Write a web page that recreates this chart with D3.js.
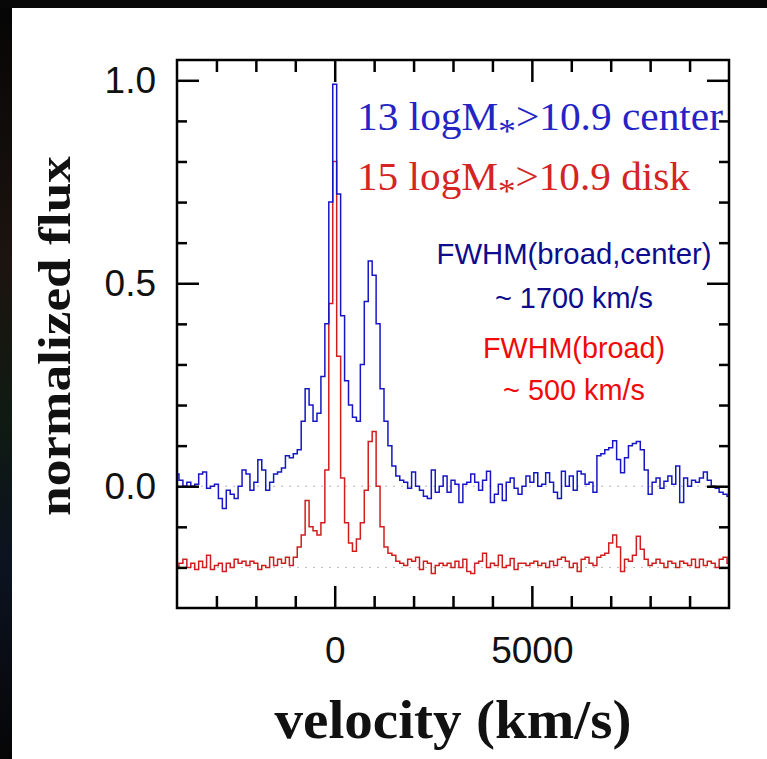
<!DOCTYPE html>
<html>
<head>
<meta charset="utf-8">
<script src="https://cdn.jsdelivr.net/npm/d3@7"></script>
<style>
body { margin: 0; background: #fff; }
svg { display: block; }
</style>
</head>
<body>
<script>
// spectra are binned in 100 km/s steps starting at -4000 km/s (bin centres)
var binStart = -4000;
var binWidth = 100;

var centerFlux = [
    0.03, 0.015, 0.0, 0.01, 0.0, 0.005, 0.03, 0.035, -0.005, 0.0,
    0.005, -0.03, -0.055, -0.01, -0.02, -0.03, 0.0, 0.04, 0.03, -0.01,
    0.01, 0.065, 0.04, -0.01, 0.01, 0.03, 0.035, 0.045, 0.075, 0.07,
    0.08, 0.09, 0.16, 0.24, 0.2, 0.16, 0.18, 0.27,
    0.4, 0.7, 0.99, 0.72, 0.42, 0.26, 0.2, 0.17, 0.16, 0.3,
    0.455, 0.555, 0.52, 0.4, 0.24, 0.16, 0.1, 0.05, 0.025,
    0.015, 0.01, -0.005, 0.035, 0.0, -0.01, -0.025, -0.03, 0.04, -0.015,
    0.0, 0.025, -0.015, 0.015, 0.005, -0.04, 0.005, 0.01, 0.03, 0.01,
    -0.01, 0.015, 0.037, -0.04, -0.02, 0.005, -0.035, 0.01, 0.02, -0.005,
    -0.02, 0.0, 0.025, 0.01, 0.033, 0.0, 0.005, 0.033, 0.01, -0.015,
    -0.03, 0.037, 0.0,
    0.025, -0.01, 0.037, 0.03, 0.005, 0.01, -0.015, 0.075, 0.08, 0.09,
    0.095, 0.112, 0.066, 0.033, 0.07, 0.1, 0.105, 0.11, 0.09, 0.04,
    -0.02, 0.01, 0.02, -0.005, 0.012, 0.025, 0.005, 0.05, -0.04, 0.02,
    0.0, 0.015, 0.01, 0.02, 0.035, 0.015, 0.0, -0.005, -0.015, -0.02,
    -0.025
];

var diskFlux = [
    -0.2, -0.19, -0.18, -0.2, -0.19, -0.205, -0.185, -0.2, -0.17, -0.205,
    -0.195, -0.19, -0.21, -0.19, -0.2, -0.18, -0.19, -0.185, -0.195, -0.185,
    -0.19, -0.205, -0.195, -0.2, -0.175, -0.195, -0.18, -0.19, -0.175, -0.195,
    -0.175, -0.15, -0.12, -0.035, -0.1, -0.11, -0.12, -0.09,
    0.04, 0.45, 0.8, 0.32, 0.02, -0.09, -0.14, -0.16, -0.13, -0.09,
    -0.01, 0.11, 0.135, 0.0, -0.1, -0.15, -0.165, -0.17, -0.185,
    -0.19, -0.195, -0.18, -0.185, -0.175, -0.205, -0.185, -0.19, -0.215, -0.195,
    -0.19, -0.195, -0.19, -0.2, -0.185, -0.2, -0.18, -0.21, -0.215, -0.19,
    -0.185, -0.165, -0.2, -0.19, -0.195, -0.17, -0.2, -0.195, -0.178, -0.205,
    -0.19, -0.19, -0.195, -0.19, -0.185, -0.195, -0.19, -0.2, -0.185, -0.195,
    -0.18, -0.175, -0.185,
    -0.2, -0.19, -0.21, -0.18, -0.175, -0.19, -0.195, -0.175, -0.17, -0.165,
    -0.14, -0.12, -0.15, -0.21, -0.18, -0.185, -0.17, -0.123, -0.155, -0.18,
    -0.195, -0.19, -0.18, -0.19, -0.2, -0.185, -0.19, -0.2, -0.185, -0.19,
    -0.195, -0.18, -0.2, -0.18, -0.195, -0.185, -0.19, -0.2, -0.18, -0.175,
    -0.19
];

var baselines = [0, -0.2];
var xMajor = [0, 5000];
var xMinor = [-3000, -2000, -1000, 1000, 2000, 3000, 4000, 6000, 7000, 8000, 9000];
var yMajor = [0, 0.5, 1.0];
var yMinor = [-0.2, -0.1, 0.1, 0.2, 0.3, 0.4, 0.6, 0.7, 0.8, 0.9];

var width = 767, height = 759;
var plotL = 177, plotR = 729, plotT = 60, plotB = 608;

var x = d3.scaleLinear().domain([-4000, 10000]).range([plotL, plotR]);
var y = d3.scaleLinear().domain([-0.3, 1.05]).range([plotB, plotT]);

var svg = d3.select("body").append("svg")
    .attr("width", width)
    .attr("height", height);

// dark slide border on the left and top
var defs = svg.append("defs");
var grad = defs.append("linearGradient").attr("id", "edge").attr("x1", 0).attr("y1", 0).attr("x2", 0).attr("y2", 1);
grad.append("stop").attr("offset", "0%").attr("stop-color", "#050505");
grad.append("stop").attr("offset", "35%").attr("stop-color", "#1c1410");
grad.append("stop").attr("offset", "55%").attr("stop-color", "#0f1a12");
grad.append("stop").attr("offset", "75%").attr("stop-color", "#0c1220");
grad.append("stop").attr("offset", "100%").attr("stop-color", "#060606");
svg.append("rect").attr("x", 0).attr("y", 0).attr("width", 12).attr("height", height).attr("fill", "url(#edge)");
svg.append("rect").attr("x", 0).attr("y", 0).attr("width", width).attr("height", 8).attr("fill", "#080808");

defs.append("clipPath").attr("id", "plot")
    .append("rect")
    .attr("x", plotL).attr("y", plotT)
    .attr("width", plotR - plotL).attr("height", plotB - plotT);

// dotted zero levels
svg.append("g").selectAll("line")
    .data(baselines)
    .enter().append("line")
    .attr("x1", plotL).attr("x2", plotR)
    .attr("y1", function (d) { return y(d); })
    .attr("y2", function (d) { return y(d); })
    .attr("stroke", "#b8b8b8")
    .attr("stroke-width", 1)
    .attr("stroke-dasharray", "2,6");

var line = d3.line()
    .x(function (d, i) { return x(binStart + i * binWidth); })
    .y(function (d) { return y(d); })
    .curve(d3.curveStep);

var spectra = svg.append("g").attr("clip-path", "url(#plot)");
spectra.append("path")
    .attr("d", line(diskFlux))
    .attr("fill", "none")
    .attr("stroke", "#d01e1e")
    .attr("stroke-width", 1.5);
spectra.append("path")
    .attr("d", line(centerFlux))
    .attr("fill", "none")
    .attr("stroke", "#1616c4")
    .attr("stroke-width", 1.5);

// axes: ticks point inward on all four sides
function styleAxis(g) {
    g.select(".domain").remove();
    g.selectAll("line").attr("stroke", "#000").attr("stroke-width", 2.5);
    g.selectAll("text")
        .attr("fill", "#111")
        .style("font-family", "'Liberation Sans', Arial, sans-serif")
        .style("font-size", "37px");
}

svg.append("g").attr("transform", "translate(0," + plotB + ")")
    .call(d3.axisBottom(x).tickValues(xMajor).tickSize(-22).tickPadding(29).tickFormat(d3.format("d")))
    .call(styleAxis);
svg.append("g").attr("transform", "translate(0," + plotB + ")")
    .call(d3.axisBottom(x).tickValues(xMinor).tickSize(-12).tickFormat(""))
    .call(styleAxis);
svg.append("g").attr("transform", "translate(0," + plotT + ")")
    .call(d3.axisTop(x).tickValues(xMajor).tickSize(-22).tickFormat(""))
    .call(styleAxis);
svg.append("g").attr("transform", "translate(0," + plotT + ")")
    .call(d3.axisTop(x).tickValues(xMinor).tickSize(-12).tickFormat(""))
    .call(styleAxis);

svg.append("g").attr("transform", "translate(" + plotL + ",0)")
    .call(d3.axisLeft(y).tickValues(yMajor).tickSize(-22).tickPadding(21).tickFormat(d3.format(".1f")))
    .call(styleAxis);
svg.append("g").attr("transform", "translate(" + plotL + ",0)")
    .call(d3.axisLeft(y).tickValues(yMinor).tickSize(-10).tickFormat(""))
    .call(styleAxis);
svg.append("g").attr("transform", "translate(" + plotR + ",0)")
    .call(d3.axisRight(y).tickValues(yMajor).tickSize(-22).tickFormat(""))
    .call(styleAxis);
svg.append("g").attr("transform", "translate(" + plotR + ",0)")
    .call(d3.axisRight(y).tickValues(yMinor).tickSize(-10).tickFormat(""))
    .call(styleAxis);

svg.append("rect")
    .attr("x", plotL).attr("y", plotT)
    .attr("width", plotR - plotL).attr("height", plotB - plotT)
    .attr("fill", "none")
    .attr("stroke", "#000")
    .attr("stroke-width", 2.5);

// sample labels
var serif = "'Liberation Serif', 'Times New Roman', serif";
var sans = "'Liberation Sans', Arial, sans-serif";

function sampleLabel(yy, color, lead, tail, len) {
    var t = svg.append("text")
        .attr("x", 357).attr("y", yy)
        .attr("fill", color)
        .attr("textLength", len)
        .attr("lengthAdjust", "spacingAndGlyphs")
        .style("font-family", serif)
        .style("font-size", "40px");
    t.append("tspan").text(lead);
    t.append("tspan").attr("dy", 12).style("font-size", "34px").text("*");
    t.append("tspan").attr("dy", -12).text(tail);
}
sampleLabel(130, "#2424c4", "13 logM", ">10.9 center", 366);
sampleLabel(190, "#d42424", "15 logM", ">10.9 disk", 333);

var notes = [
    { text: "FWHM(broad,center)", y: 264, color: "#0c0c8c", len: 275 },
    { text: "~ 1700 km/s", y: 308, color: "#0c0c8c", len: 158 },
    { text: "FWHM(broad)", y: 358, color: "#f00a0a", len: 182 },
    { text: "~ 500 km/s", y: 400, color: "#f00a0a", len: 142 }
];
svg.append("g").selectAll("text")
    .data(notes)
    .enter().append("text")
    .attr("x", 574)
    .attr("y", function (d) { return d.y; })
    .attr("text-anchor", "middle")
    .attr("fill", function (d) { return d.color; })
    .attr("textLength", function (d) { return d.len; })
    .attr("lengthAdjust", "spacingAndGlyphs")
    .style("font-family", sans)
    .style("font-size", "29px")
    .text(function (d) { return d.text; });

// axis titles
svg.append("text")
    .attr("transform", "translate(70,336) rotate(-90)")
    .attr("text-anchor", "middle")
    .attr("textLength", 360)
    .attr("lengthAdjust", "spacingAndGlyphs")
    .attr("fill", "#111")
    .style("font-family", serif)
    .style("font-weight", "bold")
    .style("font-size", "46px")
    .text("normalized flux");

svg.append("text")
    .attr("x", 453).attr("y", 738)
    .attr("text-anchor", "middle")
    .attr("textLength", 357)
    .attr("lengthAdjust", "spacingAndGlyphs")
    .attr("fill", "#111")
    .style("font-family", serif)
    .style("font-weight", "bold")
    .style("font-size", "54px")
    .text("velocity (km/s)");
</script>
</body>
</html>
